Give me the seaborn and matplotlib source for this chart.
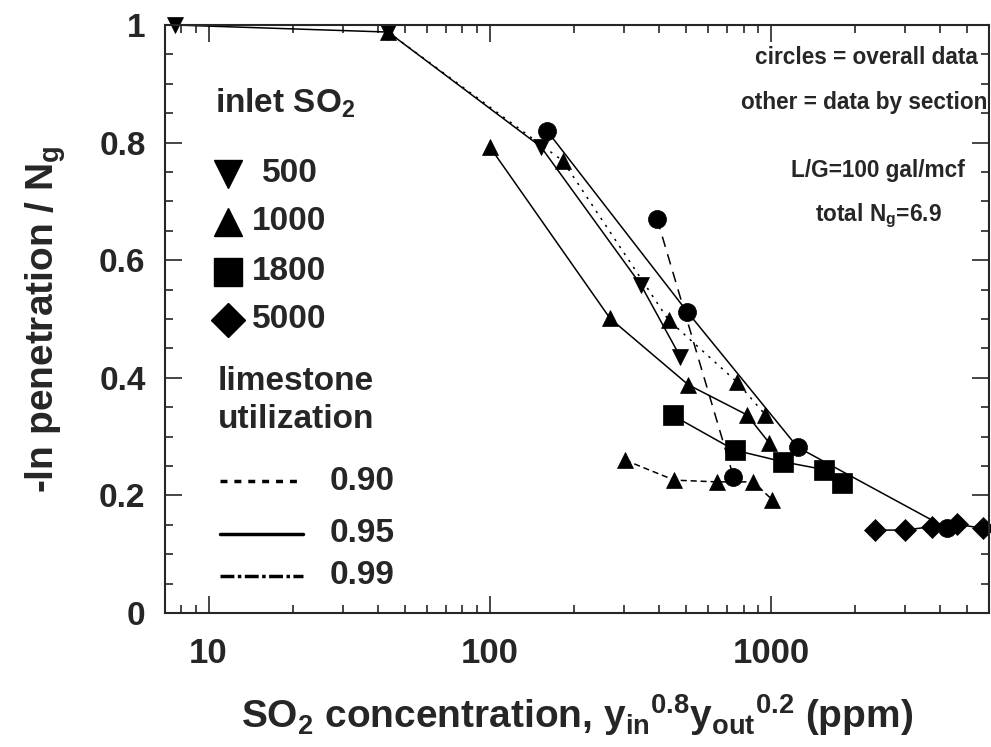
import matplotlib
matplotlib.use("Agg")
import matplotlib.pyplot as plt
from matplotlib import font_manager
import seaborn as sns
import pandas as pd
from matplotlib.ticker import FixedLocator, FixedFormatter, NullFormatter, LogLocator

# ---------------- data ----------------
# inlet SO2 = 500 ppm, utilization 0.95 (solid)
s500_x = [7.6, 43.5, 152, 345, 476]
s500_y = [1.0, 0.988, 0.793, 0.558, 0.436]
# inlet SO2 = 1000 ppm, utilization 0.90 (dotted)
s1000a_x = [43.5, 182, 433, 757, 956]
s1000a_y = [0.988, 0.769, 0.498, 0.393, 0.337]
# inlet SO2 = 1000 ppm, utilization 0.95 (solid)
s1000b_x = [100, 268, 509, 822, 988]
s1000b_y = [0.793, 0.501, 0.388, 0.337, 0.289]
# inlet SO2 = 1000 ppm, utilization 0.99 (dashed)
s1000c_x = [303, 453, 643, 867, 1009]
s1000c_y = [0.260, 0.226, 0.223, 0.223, 0.193]
# inlet SO2 = 1800 ppm (solid)
s1800_x = [448, 743, 1109, 1542, 1790]
s1800_y = [0.336, 0.277, 0.257, 0.244, 0.221]
# inlet SO2 = 5000 ppm (solid)
s5000_x = [2356, 3010, 3740, 4594, 5664]
s5000_y = [0.141, 0.141, 0.147, 0.151, 0.144]
# overall data (circles)
overall_a_x = [160, 505, 1245, 4234]
overall_a_y = [0.820, 0.512, 0.282, 0.144]
overall_b_x = [394, 736]
overall_b_y = [0.670, 0.232]

ytick_vals = [0, 0.2, 0.4, 0.6, 0.8, 1.0]
ytick_labels = ["0", "0.2", "0.4", "0.6", "0.8", "1"]
xtick_vals = [10, 100, 1000]
xtick_labels = ["10", "100", "1000"]
legend_inlet = ["500", "1000", "1800", "5000"]
legend_util = ["0.90", "0.95", "0.99"]

# ---------------- style ----------------
sns.set_style("ticks")
plt.rcParams["font.family"] = ["Liberation Sans", "DejaVu Sans"]
plt.rcParams["font.weight"] = "bold"
plt.rcParams["mathtext.fontset"] = "custom"
plt.rcParams["mathtext.rm"] = "Liberation Sans:bold"
plt.rcParams["mathtext.bf"] = "Liberation Sans:bold"
plt.rcParams["mathtext.it"] = "Liberation Sans:bold"
plt.rcParams["mathtext.default"] = "bf"

installed = {f.name for f in font_manager.fontManager.ttflist}
if "Liberation Sans Narrow" in installed:
    RFAM, RS = ["Liberation Sans Narrow", "Liberation Sans"], 20
else:
    RFAM, RS = ["Liberation Sans", "DejaVu Sans"], 16.3

W, H = 991, 747
fig = plt.figure(figsize=(W / 100, H / 100), dpi=100)
L, R, T, B = 165, 989, 25, 613
ax = fig.add_axes([L / W, 1 - B / H, (R - L) / W, (B - T) / H])

DOT = (0, (1.5, 4))
DASH = (0, (4, 2.5))
LDASH = (0, (7, 5))
lw = 1.1

def series(x, y, marker, ms, ls):
    df = pd.DataFrame({"x": x, "y": y})
    sns.lineplot(data=df, x="x", y="y", ax=ax, sort=False, estimator=None,
                 color="black", linestyle=ls, linewidth=lw, marker=marker,
                 markersize=ms, markerfacecolor="black", markeredgecolor="black",
                 markeredgewidth=0.5, clip_on=False)

series(overall_a_x, overall_a_y, "o", 13, "-")
series(overall_b_x, overall_b_y, "o", 13, LDASH)
series(s500_x, s500_y, "v", 12, "-")
series(s1000a_x, s1000a_y, "^", 12, DOT)
series(s1000b_x, s1000b_y, "^", 12, "-")
series(s1000c_x, s1000c_y, "^", 12, DASH)
series(s1800_x, s1800_y, "s", 14, "-")
series(s5000_x, s5000_y, "D", 11, "-")

ax.set_xscale("log")
ax.set_xlim(7.0, 5970)
ax.set_ylim(0, 1)

ax.yaxis.set_major_locator(FixedLocator(ytick_vals))
ax.yaxis.set_major_formatter(FixedFormatter(ytick_labels))
ax.yaxis.set_minor_locator(FixedLocator([v / 20 for v in range(21)]))
ax.xaxis.set_major_locator(FixedLocator(xtick_vals))
ax.xaxis.set_major_formatter(FixedFormatter(xtick_labels))
ax.xaxis.set_minor_locator(LogLocator(base=10, subs=range(2, 10)))
ax.xaxis.set_minor_formatter(NullFormatter())
ax.tick_params(which="both", direction="in", top=True, right=True, width=1.2)
ax.tick_params(which="major", length=12)
ax.tick_params(which="minor", length=6)
ax.tick_params(axis="x", which="major", labelsize=25, pad=17)
ax.tick_params(axis="y", which="major", labelsize=24, pad=14)
for lab in ax.get_xticklabels() + ax.get_yticklabels():
    lab.set_fontweight("bold")
for sp in ax.spines.values():
    sp.set_linewidth(1.5)
    sp.set_visible(True)

ax.set_xlabel(r"SO$_2$ concentration, y$_{in}$$^{0.8}$y$_{out}$$^{0.2}$ (ppm)",
              fontsize=28, fontweight="bold", labelpad=16)
ax.set_ylabel(r"-ln penetration / N$_g$", fontsize=28, fontweight="bold", labelpad=22)

def ptx(px, py):
    return ((px - L) / (R - L), (B - py) / (B - T))

def txt(px, py, s, size=24, ha="left", family=None):
    kw = {}
    if family is not None:
        kw["family"] = family
    ax.text(*ptx(px, py), s, transform=ax.transAxes, fontsize=size,
            fontweight="bold", ha=ha, va="center", **kw)

# left legend
txt(215, 103, r"inlet SO$_2$")
leg_markers = ["v", "^", "s", "D"]
leg_ms = [20, 20, 20, 17]
leg_y = [174, 222, 272, 320]
leg_tx = [262, 252, 252, 252]
for m, ms, yy, tx, lab in zip(leg_markers, leg_ms, leg_y, leg_tx, legend_inlet):
    ax.plot(*ptx(228, yy), marker=m, markersize=ms, color="black",
            transform=ax.transAxes, clip_on=False)
    txt(tx, yy, lab)
txt(218, 382, "limestone")
txt(218, 420, "utilization")
util_styles = [(0, (2, 2)), "-", (0, (4, 1, 1, 1))]
util_y = [481, 534, 576]
for st, yy, lab in zip(util_styles, util_y, legend_util):
    x0, y0 = ptx(220, yy)
    x1, _ = ptx(303, yy)
    ax.plot([x0, x1], [y0, y0], color="black", linestyle=st, linewidth=2.5,
            transform=ax.transAxes, clip_on=False)
    txt(330, yy, lab)

# right annotations
txt(866, 58, "circles = overall data", size=RS, ha="center", family=RFAM)
txt(864, 103, "other = data by section", size=RS, ha="center", family=RFAM)
txt(878, 170, "L/G=100 gal/mcf", size=RS, ha="center", family=RFAM)
txt(878, 216, r"total N$_g$=6.9", size=RS, ha="center", family=RFAM)

fig.savefig("out.png", dpi=100)
